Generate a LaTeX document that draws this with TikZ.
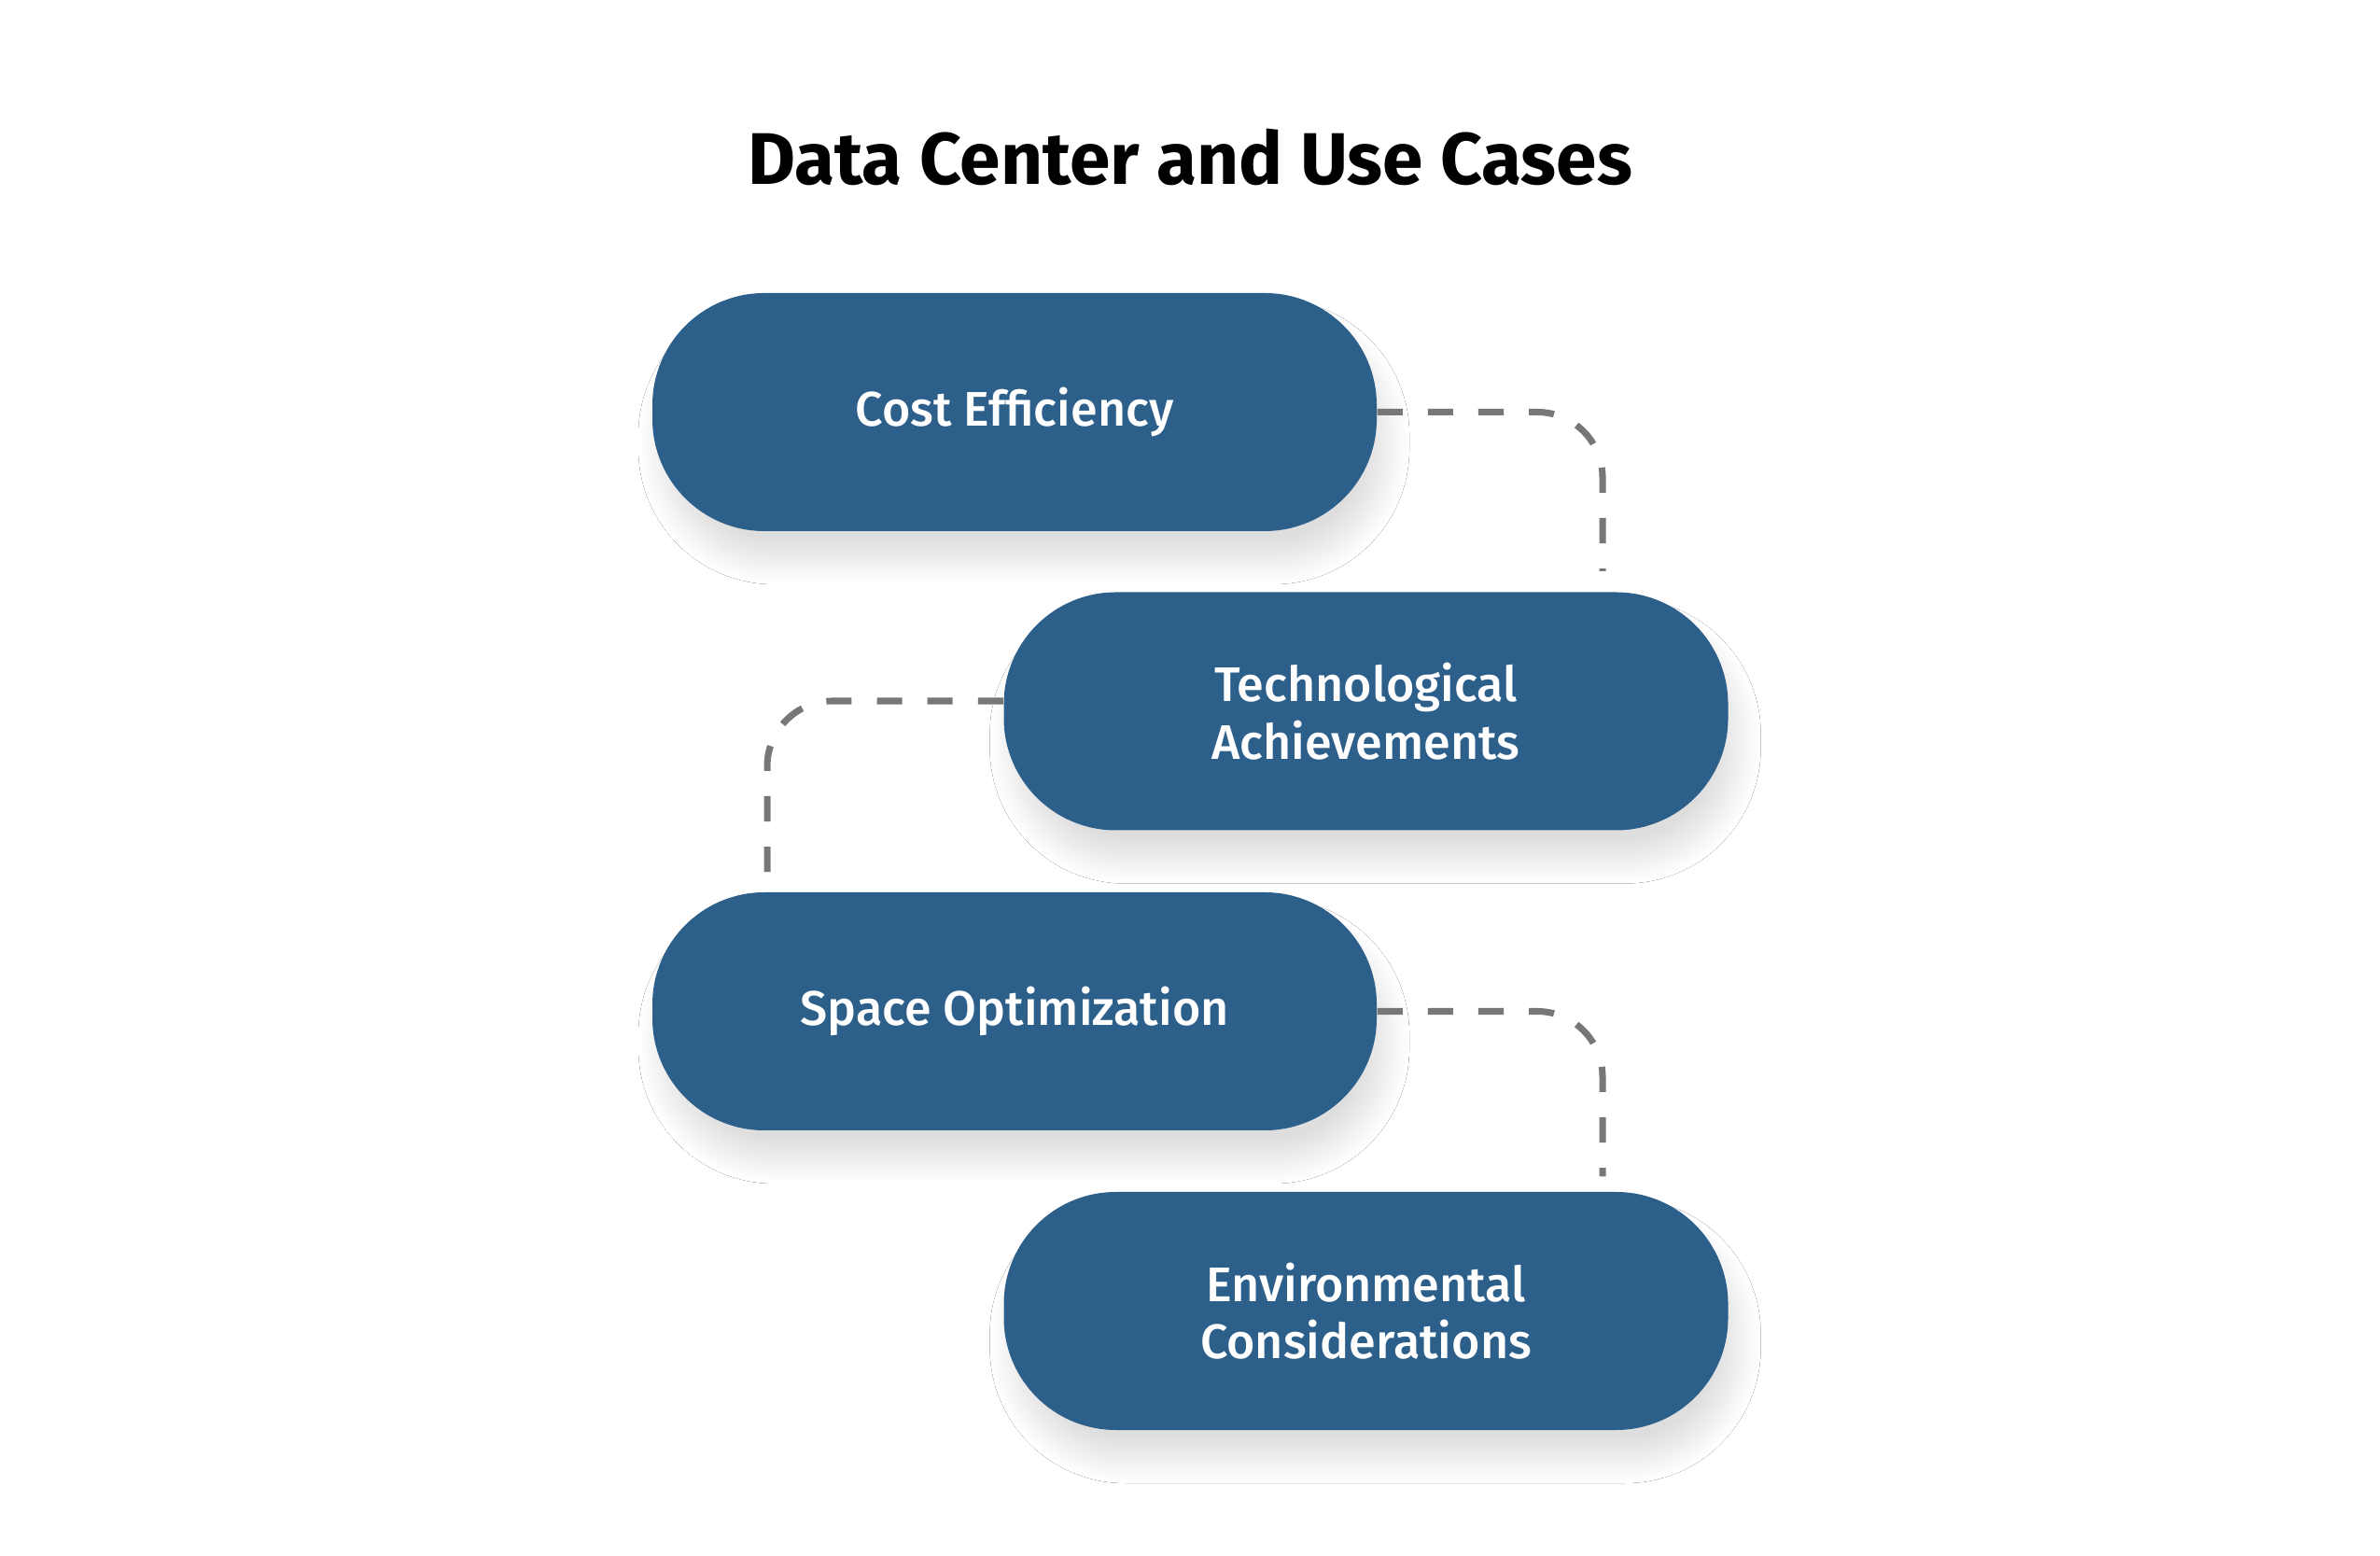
\documentclass[tikz,border=0pt]{standalone}
\usepackage{fontspec}
\setmainfont{Fira Sans}
\newfontfamily\pillfont{Fira Sans Medium}
\usetikzlibrary{shadows.blur}
\definecolor{pillblue}{HTML}{2D5F8B}
\definecolor{linkgray}{HTML}{777777}
\begin{document}
\begin{tikzpicture}[x=1cm,y=1cm,
  pill/.style={fill=pillblue, rounded corners=1.2cm, minimum width=7.76cm, minimum height=2.55cm,
    text=white, align=center, font=\pillfont\fontsize{14.8}{17.5}\selectfont,
    blur shadow={shadow xshift=0.1cm, shadow yshift=-0.32cm, shadow opacity=13, shadow blur radius=0.25cm, shadow blur steps=20}},
  link/.style={draw=linkgray, line width=2pt, dash pattern=on 7.7pt off 7.7pt, rounded corners=0.7cm}]
\fill[white] (0,0) rectangle (25.5,16.66);
\useasboundingbox (0,0) rectangle (25.5,16.66);

\node[font=\bfseries\fontsize{22.3}{25}\selectfont] (title) at (12.75,14.98) {Data Center and Use Cases};

\node[pill] (ce) at (10.87,12.245) {Cost Efficiency};
\node[pill] (ta) at (14.635,9.04) {Technological\\Achievements};
\node[pill] (so) at (10.87,5.825) {Space Optimization};
\node[pill] (ec) at (14.635,2.615) {Environmental\\Considerations};

% dashed links between the pills
\draw[link, shorten >=0.22cm] (ce.east) -| ([xshift=2.535cm]ta.north);
\draw[link] ([yshift=0.11cm]ta.west) -| ([xshift=-2.65cm]so.north);
\draw[link, shorten >=0.16cm] (so.east) -| ([xshift=2.535cm]ec.north);
\end{tikzpicture}
\end{document}
